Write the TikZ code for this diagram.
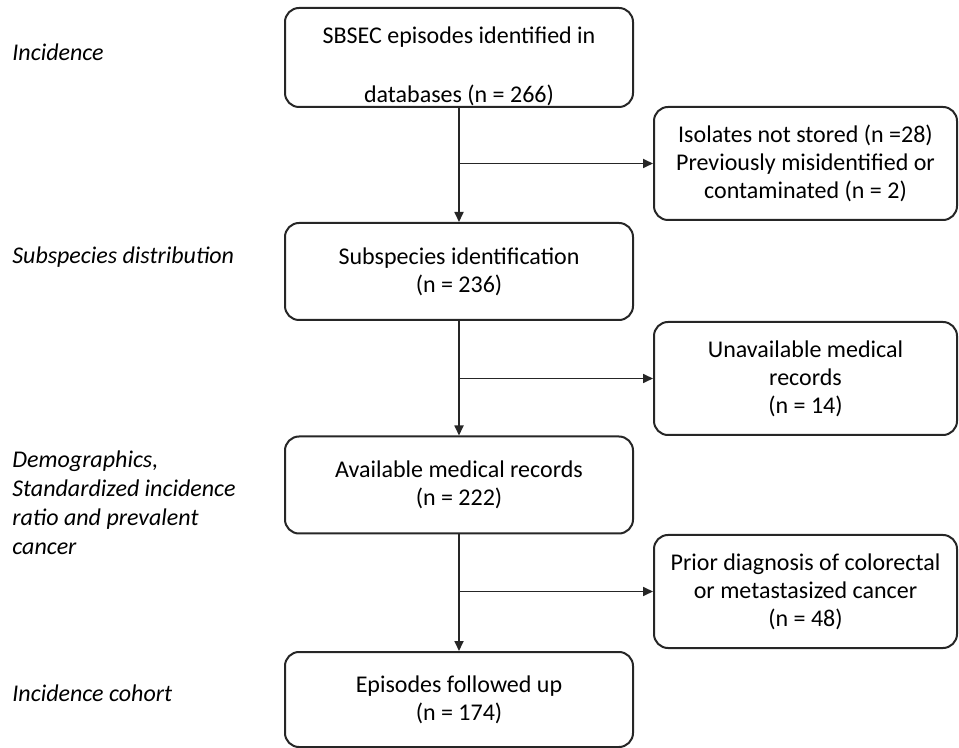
\documentclass[tikz,border=0pt]{standalone}
\usepackage{fontspec}
\setmainfont{Carlito}
\usetikzlibrary{arrows.meta}

\tikzset{
    mainbox/.style = {draw = black!85, rounded corners = 7pt, line width = 1pt,
        minimum width = 174pt, minimum height = 48.5pt, align = center, inner sep = 0pt},
    sidebox/.style = {draw = black!85, rounded corners = 7pt, line width = 1pt,
        minimum width = 151.5pt, minimum height = 56.5pt, align = center, inner sep = 0pt},
    stagelabel/.style = {anchor = west, align = left, inner sep = 0pt, font = \fontsize{12}{14.5}\selectfont\itshape},
    flow/.style = {draw = black!85, line width = 0.85pt, -{Triangle[length = 5pt, width = 4.5pt]}}
}

\begin{document}
\begin{tikzpicture}[x = 0.5pt, y = -0.5pt, font = \fontsize{12}{14}\selectfont]
        \useasboundingbox (0, 0) rectangle (959, 748);
        % stages on the left
        \node [stagelabel] (incid) at (12, 52) {Incidence};
        \node [stagelabel] (distrib) at (12, 257) {Subspecies distribution};
        \node [stagelabel] (demog) at (12, 503) {Demographics,\\Standardized incidence\\ratio and prevalent\\cancer};
        \node [stagelabel] (cohort) at (12, 693) {Incidence cohort};
        % main boxes
        \node [mainbox, minimum height = 49.5pt] (found) at (459, 57.5) {};
        \node (foundtop) at (459, 37) {SBSEC episodes identified in};
        \node (foundbot) at (459, 95) {databases (n = 266)};
        \node [mainbox] (subsp) at (459, 271.5) {Subspecies identification\\(n = 236)};
        \node [mainbox] (avail) at (459, 485) {Available medical records\\(n = 222)};
        \node [mainbox, minimum height = 47.5pt] (follow) at (459, 699.5) {Episodes followed up\\(n = 174)};
        % excluded
        \node [sidebox] (notstored) at (805.5, 163.5) {Isolates not stored (n =28)\\Previously misidentified or\\contaminated (n = 2)};
        \node [sidebox] (norecords) at (805.5, 378.5) {Unavailable medical\\records\\(n = 14)};
        \node [sidebox] (prior) at (805.5, 591.5) {Prior diagnosis of colorectal\\or metastasized cancer\\(n = 48)};
        % arrows
        \draw [flow] (found) -- (subsp);
        \draw [flow] (subsp) -- (avail);
        \draw [flow] (avail) -- (follow);
        \draw [flow] (found.south |- notstored.west) -- (notstored.west);
        \draw [flow] (subsp.south |- norecords.west) -- (norecords.west);
        \draw [flow] (avail.south |- prior.west) -- (prior.west);
    \end{tikzpicture}
\end{document}
